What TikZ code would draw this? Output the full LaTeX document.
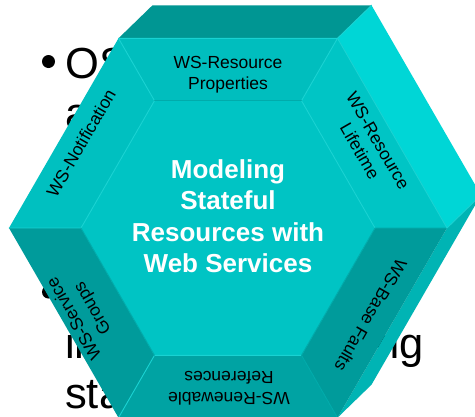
\documentclass[tikz,border=0pt]{standalone}
\usepackage{fontspec}
\setmainfont{Liberation Sans}
\definecolor{sidetop}{HTML}{009693}
\definecolor{sideur}{HTML}{00D6D6}
\definecolor{sidelr}{HTML}{00B4B4}
\definecolor{fcenter}{HTML}{00C4C4}
\definecolor{ftop}{HTML}{00BEBE}
\definecolor{fur}{HTML}{00C5C5}
\definecolor{flr}{HTML}{009B9B}
\definecolor{fbot}{HTML}{00A3A3}
\definecolor{fll}{HTML}{009B9B}
\definecolor{ful}{HTML}{00C0C0}
\definecolor{bevlight}{HTML}{19D2D2}
\definecolor{bevdark}{HTML}{00ABAB}
\tikzset{
  slidetext/.style={anchor=base west, inner sep=0pt, font=\fontsize{43.5}{50}\selectfont},
  facelabel/.style={inner sep=0pt, align=center, font=\fontsize{17.5}{21}\selectfont},
  titletext/.style={inner sep=0pt, align=center, text=white, font=\fontsize{26}{31.5}\selectfont\bfseries},
  bevel/.style={line width=0.9pt, line cap=round}
}
\begin{document}
\begin{tikzpicture}[x=1pt,y=-1pt]
\useasboundingbox (0,0) rectangle (475,416);
\clip (0,0) rectangle (475,416);
\fill[white] (0,0) rectangle (475,416);

% slide text lying behind the block
\fill[black] (48.5,61.5) circle (6.5);
\fill[black] (48.5,292) circle (6.5);
\node[slidetext] (os) at (65,78) {OS};
\node[slidetext] (a1) at (65,128) {a};
\node[slidetext] (in) at (65,358) {in};
\node[slidetext, anchor=base east] (ng) at (424,358) {ng};
\node[slidetext] (sta) at (65,408) {sta};

% outer (front) hexagon
\coordinate (O0) at (447,228);
\coordinate (O1) at (337.5,38.3);
\coordinate (O2) at (118.5,38.3);
\coordinate (O3) at (9,228);
\coordinate (O4) at (118.5,417.7);
\coordinate (O5) at (337.5,417.7);
% inner hexagon
\coordinate (I0) at (375,228);
\coordinate (I1) at (301.5,100.7);
\coordinate (I2) at (154.5,100.7);
\coordinate (I3) at (81,228);
\coordinate (I4) at (154.5,355.3);
\coordinate (I5) at (301.5,355.3);
% back hexagon (depth of the block)
\coordinate (B0) at (481,195);
\coordinate (B1) at (371.5,5.3);
\coordinate (B2) at (152.5,5.3);
\coordinate (B5) at (371.5,384.7);

% visible side faces
\fill[sidetop] (O2) -- (B2) -- (B1) -- (O1) -- cycle;
\fill[sideur] (O1) -- (B1) -- (B0) -- (O0) -- cycle;
\fill[sidelr] (O0) -- (B0) -- (B5) -- (O5) -- cycle;

% front frame
\fill[ftop] (O1) -- (O2) -- (I2) -- (I1) -- cycle;
\fill[ful] (O2) -- (O3) -- (I3) -- (I2) -- cycle;
\fill[fll] (O3) -- (O4) -- (I4) -- (I3) -- cycle;
\fill[fbot] (O4) -- (O5) -- (I5) -- (I4) -- cycle;
\fill[flr] (O5) -- (O0) -- (I0) -- (I5) -- cycle;
\fill[fur] (O0) -- (O1) -- (I1) -- (I0) -- cycle;
\fill[fcenter] (I0) -- (I1) -- (I2) -- (I3) -- (I4) -- (I5) -- cycle;

% bevel edges
\draw[bevel, bevlight] (O2) -- (I2) -- (I3) (O3) -- (I3);
\draw[bevel, bevlight] (O1) -- (I1) -- (I0);
\draw[bevel, bevlight] (I4) -- (I5) (O4) -- (I4);
\draw[bevel, bevdark] (I2) -- (I1);
\draw[bevel, bevdark] (I3) -- (I4) (I5) -- (I0) -- (O0) (I5) -- (O5);
\draw[bevel, bevlight] (O0) -- (B0) (O1) -- (B1) (O2) -- (O1) -- (O0);

% labels
\node[facelabel] (props) at (228,75) {WS-Resource\\Properties};
\node[facelabel, rotate=-60] (life) at (369,146) {WS-Resource\\Lifetime};
\node[facelabel, rotate=-120] (faults) at (371,315) {WS-Base Faults};
\node[facelabel, rotate=180] (renew) at (229,388) {WS-Renewable\\References};
\node[facelabel, rotate=120] (groups) at (84,313) {WS-Service\\Groups};
\node[facelabel, rotate=60] (notif) at (81,143) {WS-Notification};
\node[titletext] (title) at (228,216) {Modeling\\Stateful\\Resources with\\Web Services};
\end{tikzpicture}
\end{document}
